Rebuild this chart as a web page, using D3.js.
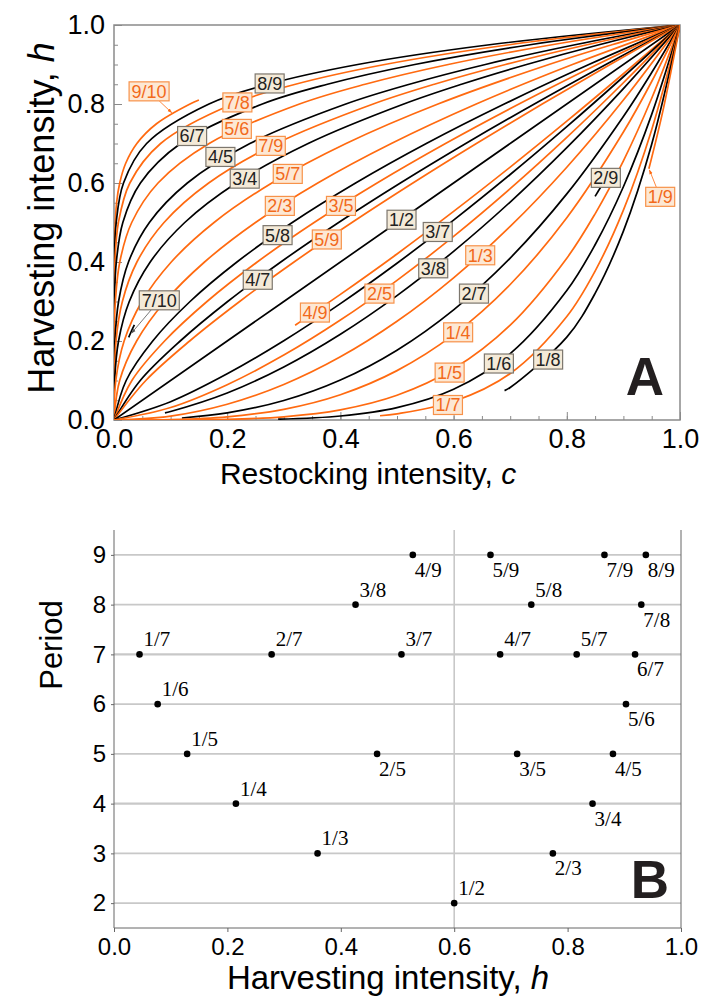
<!DOCTYPE html>
<html>
<head>
<meta charset="utf-8">
<script src="https://cdn.jsdelivr.net/npm/d3@7"></script>
<style>
body{margin:0;background:#fff;}
</style>
</head>
<body>
<svg width="704" height="1003" font-family="Liberation Sans, Arial, sans-serif"></svg>
<script>
// ---------- panel A data : curves (c, h) ----------
var fracsA = ["9/10","8/9","7/8","6/7","5/6","4/5","7/9","3/4","5/7","7/10","2/3","5/8","3/5","4/7","5/9","1/2",
              "4/9","3/7","2/5","3/8","1/3","2/7","1/4","2/9","1/5","1/6","1/7","1/8","1/9"];
var curvesA = [
  [[0.0008,0.45],[0.0046,0.55],[0.0101,0.6],[0.0207,0.65],[0.0404,0.7],[0.0751,0.75],[0.1343,0.8],[0.150,0.81]],
  [[0,0],[0.00003,0.27],[0.0007,0.4],[0.0039,0.5],[0.0168,0.6],[0.0576,0.7],[0.1678,0.8],[0.2725,0.85],[0.4305,0.9],[0.6634,0.95],[1,1]],
  [[0,0],[0.0002,0.3],[0.0016,0.4],[0.0078,0.5],[0.028,0.6],[0.0824,0.7],[0.2097,0.8],[0.3206,0.85],[0.4783,0.9],[0.6983,0.95],[1,1]],
  [[0,0],[0.0007,0.3],[0.0041,0.4],[0.0156,0.5],[0.0467,0.6],[0.1176,0.7],[0.2621,0.8],[0.3771,0.85],[0.5314,0.9],[0.7351,0.95],[1,1]],
  [[0,0],[0.0003,0.2],[0.0024,0.3],[0.0102,0.4],[0.0313,0.5],[0.0778,0.6],[0.1681,0.7],[0.3277,0.8],[0.4437,0.85],[0.5905,0.9],[0.7738,0.95],[1,1]],
  [[0,0],[0.0016,0.2],[0.0081,0.3],[0.0256,0.4],[0.0625,0.5],[0.1296,0.6],[0.2401,0.7],[0.4096,0.8],[0.522,0.85],[0.6561,0.9],[0.8145,0.95],[1,1]],
  [[0,0],[0.0036,0.2],[0.0148,0.3],[0.0405,0.4],[0.0884,0.5],[0.1673,0.6],[0.287,0.7],[0.458,0.8],[0.566,0.85],[0.6916,0.9],[0.8357,0.95],[1,1]],
  [[0,0],[0.001,0.1],[0.008,0.2],[0.027,0.3],[0.064,0.4],[0.125,0.5],[0.216,0.6],[0.343,0.7],[0.512,0.8],[0.614,0.85],[0.729,0.9],[0.857,0.95],[1,1]],
  [[0,0],[0.0032,0.1],[0.0179,0.2],[0.0493,0.3],[0.1012,0.4],[0.1768,0.5],[0.2789,0.6],[0.41,0.7],[0.5724,0.8],[0.7684,0.9],[0.8797,0.95],[1,1]],
  [[0.026,0.209],[0.031,0.226],[0.036,0.241]],
  [[0,0],[0.01,0.1],[0.04,0.2],[0.09,0.3],[0.16,0.4],[0.25,0.5],[0.36,0.6],[0.49,0.7],[0.64,0.8],[0.81,0.9],[1,1]],
  [[0,0],[0.0215,0.1],[0.0684,0.2],[0.1344,0.3],[0.2172,0.4],[0.315,0.5],[0.4269,0.6],[0.5518,0.7],[0.6895,0.8],[0.839,0.9],[1,1]],
  [[0,0],[0.0316,0.1],[0.0894,0.2],[0.1643,0.3],[0.253,0.4],[0.3536,0.5],[0.4648,0.6],[0.5857,0.7],[0.7155,0.8],[0.8538,0.9],[1,1]],
  [[0,0],[0.0464,0.1],[0.117,0.2],[0.2008,0.3],[0.2947,0.4],[0.3969,0.5],[0.506,0.6],[0.6215,0.7],[0.7427,0.8],[0.869,0.9],[1,1]],
  [[0,0],[0.0562,0.1],[0.1337,0.2],[0.222,0.3],[0.3181,0.4],[0.4204,0.5],[0.5281,0.6],[0.6403,0.7],[0.7566,0.8],[0.8766,0.9],[1,1]],
  [[0,0],[0.5,0.5],[1,1]],
  [[0.32,0.24],[0.4,0.3181],[0.5,0.4204],[0.6,0.5281],[0.7,0.6403],[0.8,0.7566],[0.9,0.8766],[1,1]],
  [[0,0],[0.1,0.0464],[0.2,0.117],[0.3,0.2008],[0.4,0.2947],[0.5,0.3969],[0.6,0.506],[0.7,0.6215],[0.8,0.7427],[0.9,0.869],[1,1]],
  [[0,0],[0.1,0.0316],[0.2,0.0894],[0.3,0.1643],[0.4,0.253],[0.5,0.3536],[0.6,0.4648],[0.7,0.5857],[0.8,0.7155],[0.9,0.8538],[1,1]],
  [[0.09,0.0181],[0.1,0.0215],[0.2,0.0684],[0.3,0.1344],[0.4,0.2172],[0.5,0.315],[0.6,0.4269],[0.7,0.5518],[0.8,0.6895],[0.9,0.839],[1,1]],
  [[0,0],[0.1,0.01],[0.2,0.04],[0.3,0.09],[0.4,0.16],[0.5,0.25],[0.6,0.36],[0.7,0.49],[0.8,0.64],[0.9,0.81],[1,1]],
  [[0.12,0.005],[0.2,0.0179],[0.3,0.0493],[0.4,0.1012],[0.5,0.1768],[0.6,0.2789],[0.7,0.41],[0.8,0.5724],[0.9,0.7684],[0.95,0.8797],[1,1]],
  [[0,0],[0.1,0.001],[0.2,0.008],[0.3,0.027],[0.4,0.064],[0.5,0.125],[0.6,0.216],[0.7,0.343],[0.8,0.512],[0.9,0.729],[0.95,0.857],[1,1]],
  [[0.85,0.566],[0.86,0.59]],
  [[0,0],[0.2,0.0016],[0.3,0.0081],[0.4,0.0256],[0.5,0.0625],[0.6,0.1296],[0.7,0.2401],[0.8,0.4096],[0.85,0.522],[0.9,0.6561],[0.95,0.8145],[1,1]],
  [[0.29,0.002],[0.4,0.0102],[0.5,0.0313],[0.6,0.0778],[0.7,0.1681],[0.8,0.3277],[0.85,0.4437],[0.9,0.5905],[0.95,0.7738],[1,1]],
  [[0.47,0.0108],[0.5,0.0156],[0.6,0.0467],[0.7,0.1176],[0.8,0.2621],[0.85,0.3771],[0.9,0.5314],[0.95,0.7351],[1,1]],
  [[0.69,0.0744],[0.7,0.0824],[0.8,0.2097],[0.85,0.3206],[0.9,0.4783],[0.95,0.6983],[1,1]],
  [[0.945,0.636],[0.97,0.784],[1,1]]
];
// label box centres (c, h)
var labelsA = [[0.062,0.832],[0.275,0.852],[0.218,0.804],[0.138,0.719],[0.217,0.737],[0.188,0.666],[0.277,0.694],
               [0.231,0.611],[0.307,0.623],[0.080,0.303],[0.293,0.542],[0.289,0.468],[0.401,0.542],[0.254,0.355],
               [0.376,0.457],[0.508,0.507],[0.355,0.272],[0.572,0.476],[0.469,0.320],[0.564,0.384],[0.647,0.417],
               [0.636,0.320],[0.608,0.222],[0.869,0.613],[0.593,0.120],[0.680,0.143],[0.590,0.038],[0.767,0.153],[0.965,0.565]];
// arrow tips for the labels that point at a curve
var arrowsA = {"9/10":[0.102,0.778], "7/10":[0.031,0.220], "1/9":[0.946,0.633]};

// ---------- panel B data ----------
var fracsB  = ["1/2","1/3","2/3","1/4","3/4","1/5","2/5","3/5","4/5","1/6","5/6","1/7","2/7","3/7","4/7","5/7","6/7",
               "3/8","5/8","7/8","4/9","5/9","7/9","8/9"];
var periodB = [2,3,3,4,4,5,5,5,5,6,6,7,7,7,7,7,7,8,8,8,9,9,9,9];
var harvestB = [0.600,0.359,0.774,0.215,0.844,0.129,0.464,0.711,0.880,0.077,0.903,0.045,0.278,0.507,0.681,0.816,0.919,
                0.426,0.736,0.930,0.527,0.664,0.865,0.938];
var periodTicks = [2,3,4,5,6,7,8,9];

var svg = d3.select("svg");
var orange = "#ff6a10", gray = "#8a8a8a";

function styleTicks(g, size, col){
  g.select(".domain").remove();
  g.selectAll("line").attr("stroke",col);
  g.selectAll("text").attr("font-size",size).attr("fill","#000").style("font-family","Liberation Sans");
}

// ================= PANEL A =================
var xA = d3.scaleLinear().domain([0,1]).range([114,680]);
var yA = d3.scaleLinear().domain([0,1]).range([420,25]);

var gA = svg.append("g");
gA.append("rect").attr("x",114).attr("y",25).attr("width",566).attr("height",395)
  .attr("fill","none").attr("stroke",gray).attr("stroke-width",1.5);

// minor + major ticks (inward)
var minorT = d3.range(0,1.0001,0.05);
var majorT = [0,0.2,0.4,0.6,0.8,1.0];
gA.append("g").attr("transform","translate(114,0)")
  .call(d3.axisLeft(yA).tickValues(minorT).tickSize(-4).tickFormat(""))
  .call(function(g){styleTicks(g,0,gray);});
gA.append("g").attr("transform","translate(0,420)")
  .call(d3.axisBottom(xA).tickValues(minorT).tickSize(-4).tickFormat(""))
  .call(function(g){styleTicks(g,0,gray);});
gA.append("g").attr("transform","translate(114,0)")
  .call(d3.axisLeft(yA).tickValues(majorT).tickSize(-8).tickPadding(9).tickFormat(d3.format(".1f")))
  .call(function(g){styleTicks(g,27,gray);});
gA.append("g").attr("transform","translate(0,420)")
  .call(d3.axisBottom(xA).tickValues(majorT).tickSize(-8).tickPadding(9).tickFormat(d3.format(".1f")))
  .call(function(g){styleTicks(g,27,gray);});

// curves
var lineA = d3.line().x(function(d){return xA(d[0]);}).y(function(d){return yA(d[1]);})
  .curve(d3.curveCatmullRom.alpha(0.5));
var clipA = svg.append("clipPath").attr("id","clipA");
clipA.append("rect").attr("x",114).attr("y",25).attr("width",566).attr("height",395);
gA.append("g").attr("clip-path","url(#clipA)")
  .selectAll("path").data(curvesA).enter().append("path")
  .attr("d",lineA).attr("fill","none")
  .attr("stroke",function(d,i){return i%2===0 ? orange : "#000";})
  .attr("stroke-width",1.7);

// arrows
var defs = svg.append("defs");
function marker(id,col){
  defs.append("marker").attr("id",id).attr("viewBox","0 0 10 10").attr("refX",9).attr("refY",5)
    .attr("markerWidth",6).attr("markerHeight",6).attr("orient","auto")
    .append("path").attr("d","M0,1.5L10,5L0,8.5z").attr("fill",col);
}
marker("arrO",orange); marker("arrK","#555");

// labels
fracsA.forEach(function(f,i){
  var isO = i%2===0;
  var cx = xA(labelsA[i][0]), cy = yA(labelsA[i][1]);
  var w = f.length>3 ? 40 : 29, h = 19;
  if (arrowsA[f]) {
    var tx = xA(arrowsA[f][0]), ty = yA(arrowsA[f][1]);
    var dx = tx-cx, dy = ty-cy;
    var t = Math.min((w/2)/Math.abs(dx||1e-6),(h/2)/Math.abs(dy||1e-6));
    gA.append("line").attr("x1",cx+dx*t).attr("y1",cy+dy*t).attr("x2",tx).attr("y2",ty)
      .attr("stroke",isO?orange:"#555").attr("stroke-width",0.8)
      .attr("marker-end",isO?"url(#arrO)":"url(#arrK)");
  }
  gA.append("rect").attr("x",cx-w/2).attr("y",cy-h/2).attr("width",w).attr("height",h)
    .attr("fill",isO?"#fde8d4":"#f4ead8").attr("stroke",isO?"#f7924a":"#7d776e").attr("stroke-width",1.2);
  gA.append("text").attr("x",cx).attr("y",cy+6.5).attr("text-anchor","middle")
    .attr("font-size",18).attr("fill",isO?"#f26a1b":"#222").text(f);
});

gA.append("text").attr("x",645).attr("y",395).attr("text-anchor","middle")
  .attr("font-size",53).attr("font-weight","bold").attr("fill","#231f20").text("A");

// titles
var tA = gA.append("text").attr("x",368).attr("y",484).attr("text-anchor","middle").attr("font-size",30);
tA.append("tspan").text("Restocking intensity, ");
tA.append("tspan").attr("font-style","italic").text("c");
var tAy = gA.append("text").attr("transform","translate(54,218) rotate(-90)").attr("text-anchor","middle").attr("font-size",36);
tAy.append("tspan").text("Harvesting intensity, ");
tAy.append("tspan").attr("font-style","italic").text("h");

// ================= PANEL B =================
var xB = d3.scaleLinear().domain([0,1]).range([114,681]);
var yB = d3.scaleLinear().domain([1.5,9.5]).range([928,530]);
var gB = svg.append("g");

gB.selectAll("line.grid").data(periodTicks).enter().append("line")
  .attr("x1",114).attr("x2",681).attr("y1",function(d){return yB(d);}).attr("y2",function(d){return yB(d);})
  .attr("stroke","#c8c8c8").attr("stroke-width",function(d){return (d===7||d===4)?2.4:1.6;});
gB.append("line").attr("x1",xB(0.6)).attr("x2",xB(0.6)).attr("y1",530).attr("y2",928)
  .attr("stroke","#c8c8c8").attr("stroke-width",1.6);

gB.append("g").attr("transform","translate(114,0)")
  .call(d3.axisLeft(yB).tickValues(periodTicks).tickSize(3).tickPadding(5))
  .call(function(g){styleTicks(g,24,"#666");});
gB.append("g").attr("transform","translate(0,928)")
  .call(d3.axisBottom(xB).tickValues(d3.range(0,1.0001,0.2)).tickSize(4).tickPadding(6).tickFormat(d3.format(".1f")))
  .call(function(g){styleTicks(g,24,"#666");});
gB.append("line").attr("x1",114).attr("x2",114).attr("y1",530).attr("y2",928).attr("stroke","#666");
gB.append("line").attr("x1",114).attr("x2",681).attr("y1",928).attr("y2",928).attr("stroke","#666");
gB.append("line").attr("x1",681).attr("x2",681).attr("y1",530).attr("y2",928).attr("stroke","#666");

var below = ["4/9","5/9","7/9","8/9","7/8","6/7","5/6","2/5","3/5","4/5","3/4","2/3"];
fracsB.forEach(function(f,i){
  var px = xB(harvestB[i]), py = yB(periodB[i]);
  gB.append("circle").attr("cx",px).attr("cy",py).attr("r",3.3).attr("fill","#000");
  var dn = below.indexOf(f)>=0;
  gB.append("text").attr("x",px+(dn?2:4)).attr("y",py+(dn?22:-8))
    .style("font-family","Liberation Serif").attr("font-size",21).attr("fill","#000").text(f);
});

gB.append("text").attr("x",650).attr("y",898).attr("text-anchor","middle")
  .attr("font-size",53).attr("font-weight","bold").attr("fill","#231f20").text("B");

var tB = gB.append("text").attr("x",388).attr("y",989).attr("text-anchor","middle").attr("font-size",33);
tB.append("tspan").text("Harvesting intensity, ");
tB.append("tspan").attr("font-style","italic").text("h");
gB.append("text").attr("transform","translate(62,645) rotate(-90)").attr("text-anchor","middle")
  .attr("font-size",31).text("Period");
</script>
</body>
</html>
